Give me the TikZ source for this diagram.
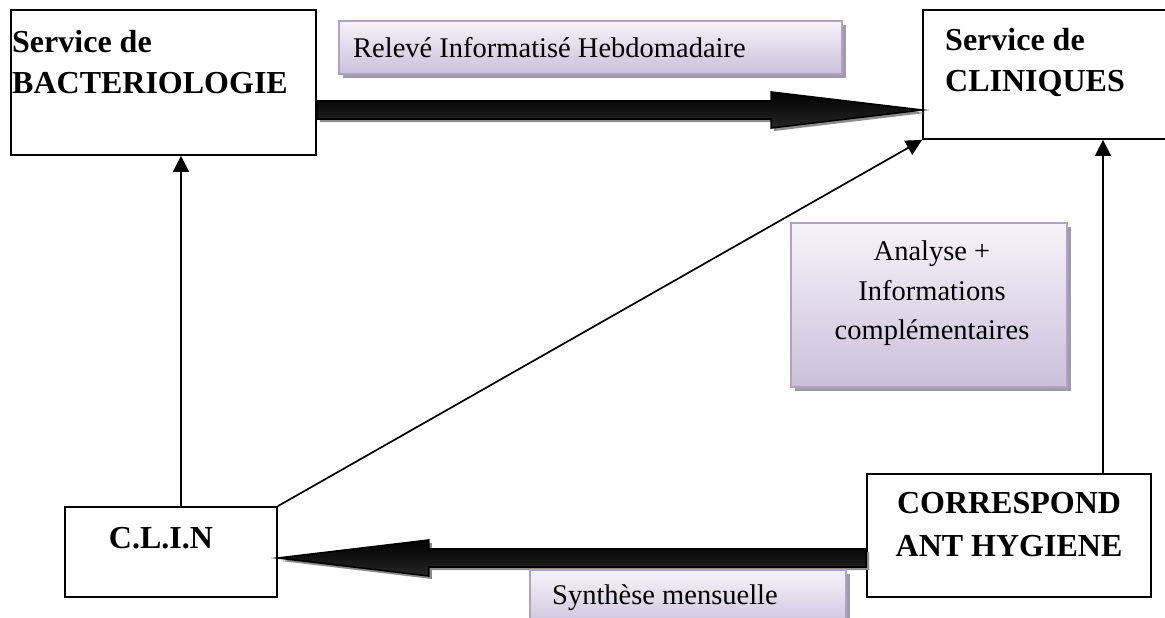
\documentclass[tikz,border=0pt]{standalone}
\usepackage{fontspec}
\setmainfont{Liberation Serif}
\usetikzlibrary{calc,arrows.meta,shadows}

\definecolor{lavtop}{RGB}{246,243,250}
\definecolor{lavbot}{RGB}{203,192,218}
\definecolor{lavborder}{RGB}{178,161,199}
\definecolor{shadowc}{RGB}{158,156,166}
\definecolor{fatshadow}{RGB}{140,140,140}

\tikzset{
  servicebox/.style={draw=black, line width=1.8pt, fill=white, rectangle, inner sep=0pt},
  titletext/.style={inner sep=0pt, font=\bfseries\fontsize{32}{41}\selectfont},
  flowlabel/.style={rectangle, inner sep=0pt, draw=lavborder, line width=1.6pt,
    top color=lavtop, bottom color=lavbot,
    drop shadow={shadow xshift=4pt, shadow yshift=-4pt, fill=shadowc, opacity=1}},
  labeltext/.style={inner sep=0pt, font=\fontsize{28.5}{39.5}\selectfont},
  thinflow/.style={line width=1.7pt, -{Triangle[length=16pt,width=16pt]}},
}

% thick shaded arrow: #1 start, #2 head base, #3 tip
\newcommand\fatarrow[3]{%
  \fill[fatshadow, transform canvas={shift={(3pt,-3pt)}}]
    ($(#1)!9pt!90:(#3)$) -- ($(#2)!9pt!90:(#3)$) -- ($(#2)!18pt!90:(#3)$) -- (#3)
    -- ($(#2)!18pt!-90:(#3)$) -- ($(#2)!9pt!-90:(#3)$) -- ($(#1)!9pt!-90:(#3)$) -- cycle;
  \shade[top color=black, middle color=black!55, bottom color=black!85]
    ($(#1)!9pt!90:(#3)$) -- ($(#2)!9pt!90:(#3)$) -- ($(#2)!18pt!90:(#3)$) -- (#3)
    -- ($(#2)!18pt!-90:(#3)$) -- ($(#2)!9pt!-90:(#3)$) -- ($(#1)!9pt!-90:(#3)$) -- cycle;
  \draw[black, line width=1.6pt, line join=miter]
    ($(#1)!9pt!90:(#3)$) -- ($(#2)!9pt!90:(#3)$) -- ($(#2)!18pt!90:(#3)$) -- (#3)
    -- ($(#2)!18pt!-90:(#3)$) -- ($(#2)!9pt!-90:(#3)$) -- ($(#1)!9pt!-90:(#3)$) -- cycle;
}

\begin{document}
\begin{tikzpicture}[x=1pt, y=-1pt]
\useasboundingbox (0,0) rectangle (1165,618);
\fill[white] (0,0) rectangle (1165,618);

% service boxes
\node[servicebox, minimum width=305pt, minimum height=145pt] (bact) at (163.5,82.5) {};
\node[servicebox, minimum width=262pt, minimum height=129pt] (cli) at (1054,74.5) {};
\node[servicebox, minimum width=212pt, minimum height=90pt] (clin) at (171,552) {};
\node[servicebox, minimum width=284pt, minimum height=123pt] (cor) at (1009,535.5) {};

\node[titletext, anchor=north west, align=left] (bactT) at (12,30.5) {Service de\\BACTERIOLOGIE};
\node[titletext, anchor=north west, align=left] (cliT) at (945,28.5) {Service de\\CLINIQUES};
\node[titletext, anchor=base] (clinT) at (161,548) {C.L.I.N};
\node[titletext, anchor=north, align=center, font=\bfseries\fontsize{32}{43}\selectfont] (corT) at (1009,492.5) {CORRESPOND\\ANT HYGIENE};

% thin connectors
\draw[thinflow] ([xshift=10pt]clin.north) -- ([xshift=10pt]clin.north |- bact.south);
\draw[thinflow] ([xshift=94pt]cor.north) -- ([xshift=94pt]cor.north |- cli.south);
\draw[thinflow] (clin.north east) -- (cli.south west);

% thick flows
\coordinate (ts) at (bact.east |- 0,110);
\coordinate (te) at (cli.west |- 0,110);
\coordinate (th) at ($(te)!151pt!(ts)$);
\fatarrow{ts}{th}{te}

\coordinate (bs) at (cor.west |- 0,558);
\coordinate (be) at (clin.east |- 0,558);
\coordinate (bh) at ($(be)!151pt!(bs)$);
\fatarrow{bs}{bh}{be}

% flow labels
\node[flowlabel, minimum width=503pt, minimum height=53pt] (rel) at (590.5,47.5) {};
\node[labeltext, anchor=base west] (relT) at (353,58) {Relevé Informatisé Hebdomadaire};

\node[flowlabel, minimum width=276pt, minimum height=164pt] (ana) at (929,305) {};
\node[labeltext, anchor=north, align=center] (anaT) at (932,241) {Analyse +\\Informations\\complémentaires};

\node[flowlabel, minimum width=316pt, minimum height=60pt] (syn) at (688,600) {};
\node[labeltext, anchor=base west] (synT) at (552,604) {Synthèse mensuelle};
\end{tikzpicture}
\end{document}
